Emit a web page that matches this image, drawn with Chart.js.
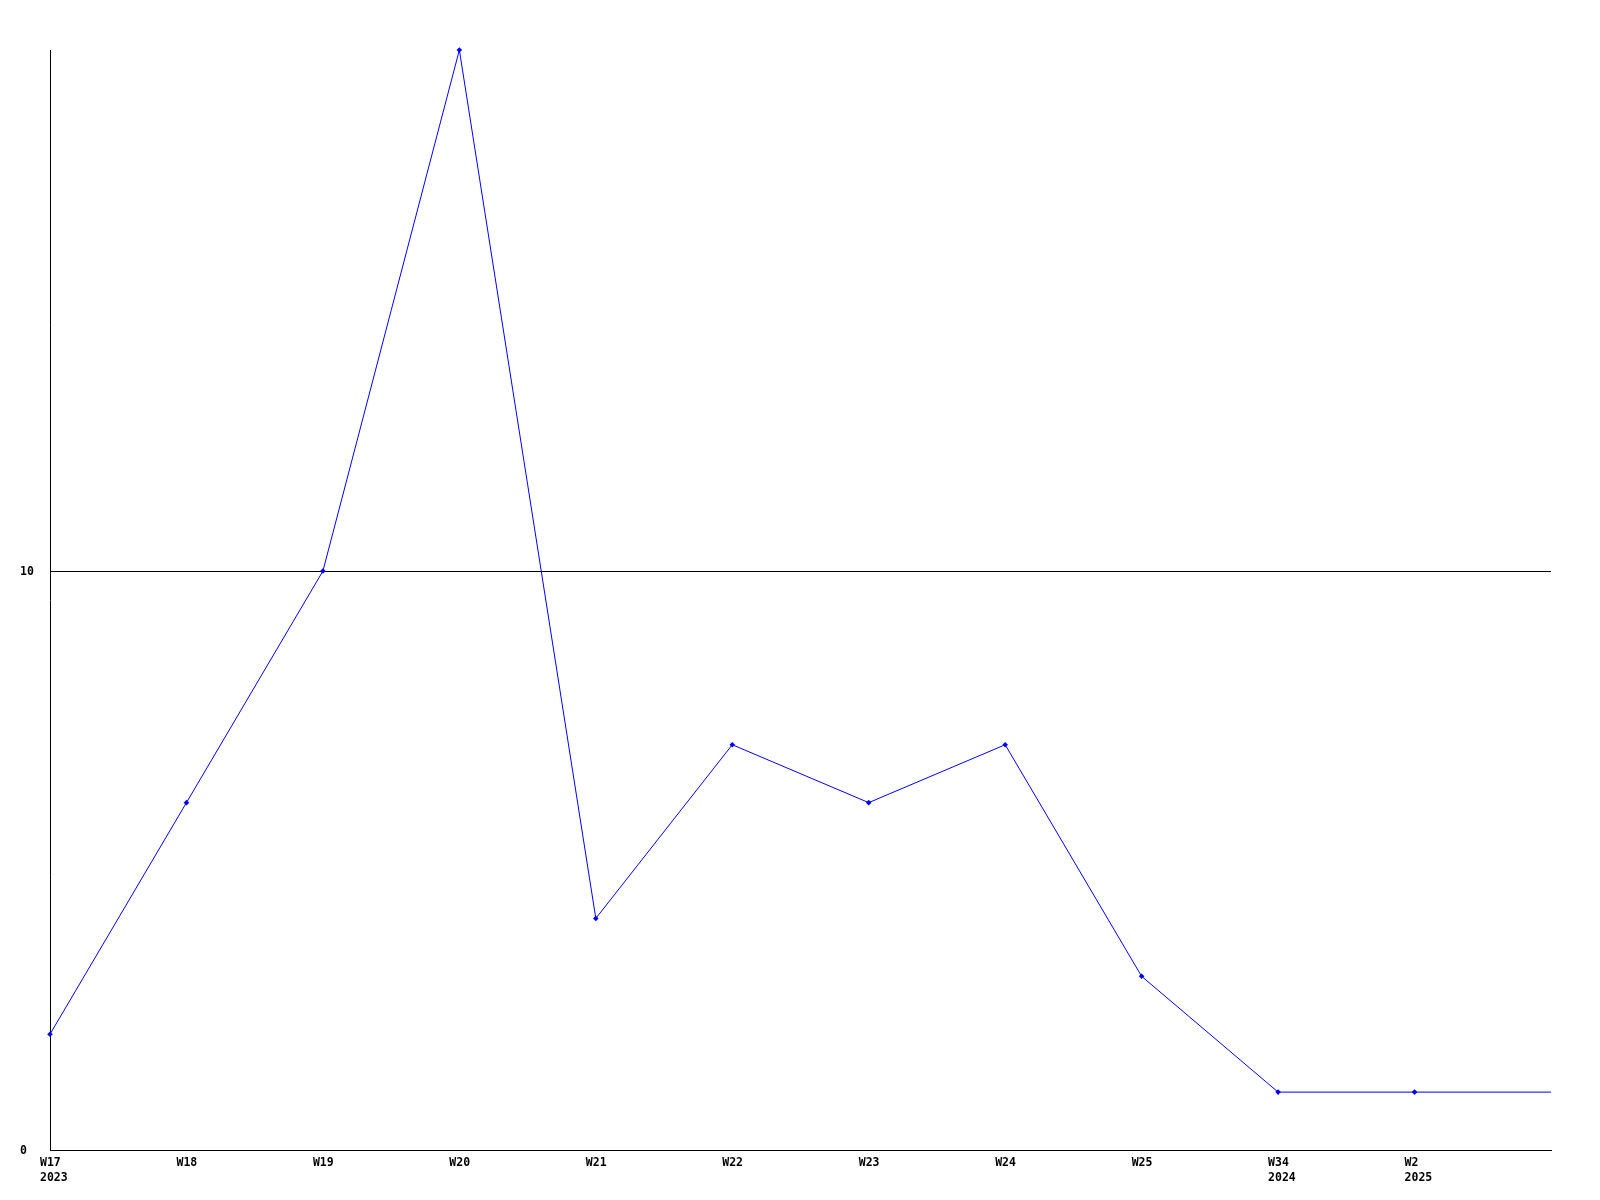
<!DOCTYPE html>
<html>
<head>
<meta charset="utf-8">
<script src="https://cdn.jsdelivr.net/npm/chart.js@4/dist/chart.umd.min.js"></script>
<style>
html,body{margin:0;padding:0;background:#fff;}
canvas{display:block;}
</style>
</head>
<body>
<canvas id="c" width="1600" height="1200"></canvas>
<script>
const categories = [["W17","2023"],"W18","W19","W20","W21","W22","W23","W24","W25",["W34","2024"],["W2","2025"],""];
const seriesValues = [2,6,10,19,4,7,6,7,3,1,1,1];
const yTicks = [0,10];
const yMax = 19;

const font = {family: "'DejaVu Sans Mono', 'Liberation Mono', monospace", size: 11.5, weight: 'bold', lineHeight: 1.3};

new Chart(document.getElementById('c'), {
  type: 'line',
  data: {
    labels: categories,
    datasets: [{
      data: seriesValues,
      borderColor: '#0000ff',
      backgroundColor: '#0000ff',
      borderWidth: 1,
      tension: 0,
      fill: false,
      pointStyle: 'rectRot',
      pointRadius: seriesValues.map((v,i)=> i === seriesValues.length-1 ? 0 : 2.8),
      pointBorderWidth: 0,
      clip: false
    }]
  },
  options: {
    responsive: false,
    animation: false,
    devicePixelRatio: 1,
    layout: {padding: {top: 50, right: 49, left: 20, bottom: 0}},
    plugins: {legend: {display: false}, tooltip: {enabled: false}},
    scales: {
      x: {
        type: 'category',
        offset: false,
        grid: {display: false, drawTicks: false},
        border: {display: true, color: '#000', width: 1},
        ticks: {
          color: '#000', font: font, align: 'start', labelOffset: -10,
          padding: 6, maxRotation: 0, minRotation: 0, autoSkip: false
        },
        afterFit: s => { s.height = 50; }
      },
      y: {
        min: 0, max: yMax,
        grid: {display: true, color: '#000', lineWidth: 1, drawTicks: false},
        border: {display: true, color: '#000', width: 1},
        ticks: {color: '#000', font: font, crossAlign: 'far', padding: 4, labelOffset: 1},
        afterBuildTicks: s => { s.ticks = yTicks.map(v => ({value: v})); },
        afterFit: s => { s.width = 30; }
      }
    }
  }
});
</script>
</body>
</html>
